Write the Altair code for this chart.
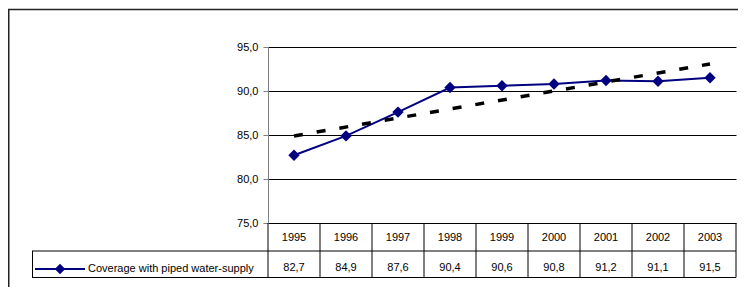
import altair as alt
import pandas as pd

years = [1995, 1996, 1997, 1998, 1999, 2000, 2001, 2002, 2003]
values = [82.7, 84.9, 87.6, 90.4, 90.6, 90.8, 91.2, 91.1, 91.5]
series_name = "Coverage with piped water-supply"
y_ticks = [75, 80, 85, 90, 95]

df = pd.DataFrame({"year": years, "value": values})
edges = pd.DataFrame({"edge": [y - 0.5 for y in years] + [years[-1] + 0.5]})
one = pd.DataFrame({"label": [series_name]})

FONT = "Liberation Sans"
NAVY = "#000080"

x = alt.X("year:Q", scale=alt.Scale(domain=[1994.5, 2003.5], nice=False, zero=False), axis=None)
y = alt.Y(
    "value:Q",
    scale=alt.Scale(domain=[75, 95], nice=False, zero=False),
    axis=alt.Axis(
        values=y_ticks, grid=True, gridColor="black", gridWidth=1,
        domainColor="#808080", tickColor="#808080", tickSize=5,
        labelPadding=5, labelFont=FONT, labelFontSize=11, labelColor="black",
        labelExpr="replace(format(datum.value, '.1f'), '.', ',')", title=None,
    ),
)

base = alt.Chart(df)

line = base.mark_line(color=NAVY, strokeWidth=2).encode(x=x, y=y)
pts = base.mark_point(shape="diamond", filled=True, size=130, color=NAVY, opacity=1).encode(x=x, y=y)
trend = base.transform_regression("year", "value", method="linear").mark_line(
    color="black", strokeDash=[9, 14], strokeWidth=3.5
).encode(x=x, y=y)

hdr = base.mark_text(font=FONT, fontSize=11, color="black", baseline="middle", align="center").encode(
    x=x, y=alt.value(191), text=alt.Text("year:Q", format="d")
)
vals = base.transform_calculate(
    vlabel="replace(format(datum.value, '.1f'), '.', ',')"
).mark_text(font=FONT, fontSize=11, color="black", baseline="middle", align="center").encode(
    x=x, y=alt.value(221), text="vlabel:N"
)

vlines = alt.Chart(edges).mark_rule(color="black", strokeWidth=1).encode(
    x=alt.X("edge:Q", scale=alt.Scale(domain=[1994.5, 2003.5], nice=False, zero=False), axis=None),
    y=alt.value(176), y2=alt.value(230.5),
)

ob = alt.Chart(one)
h1 = ob.mark_rule(color="black", strokeWidth=1).encode(x=alt.value(-236), x2=alt.value(468), y=alt.value(204))
h2 = ob.mark_rule(color="black", strokeWidth=1).encode(x=alt.value(-236), x2=alt.value(468), y=alt.value(230.5))
vl = ob.mark_rule(color="black", strokeWidth=1).encode(x=alt.value(-235.5), y=alt.value(204), y2=alt.value(230.5))
leg_line = ob.mark_rule(color=NAVY, strokeWidth=2).encode(x=alt.value(-233), x2=alt.value(-183), y=alt.value(222))
leg_pt = ob.mark_point(shape="diamond", filled=True, size=110, color=NAVY, opacity=1).encode(
    x=alt.value(-208), y=alt.value(222)
)
leg_txt = ob.mark_text(font=FONT, fontSize=11, color="black", baseline="middle", align="left").encode(
    x=alt.value(-180), y=alt.value(222), text="label:N"
)
frame = ob.mark_rect(fill="transparent", stroke="#222222", strokeWidth=1.5).encode(
    x=alt.value(-259.25), x2=alt.value(520), y=alt.value(-37.5), y2=alt.value(320)
)

chart = alt.layer(
    frame, vlines, h1, h2, vl, line, pts, trend, hdr, vals, leg_line, leg_pt, leg_txt
).properties(
    width=468, height=176,
    padding={"left": 260, "top": 39, "right": 2, "bottom": 64},
    autosize=alt.AutoSizeParams(type="none"),
    background="white",
).configure_view(stroke=None)

chart.save("out.html", embed_options={"renderer": "svg", "actions": False})
